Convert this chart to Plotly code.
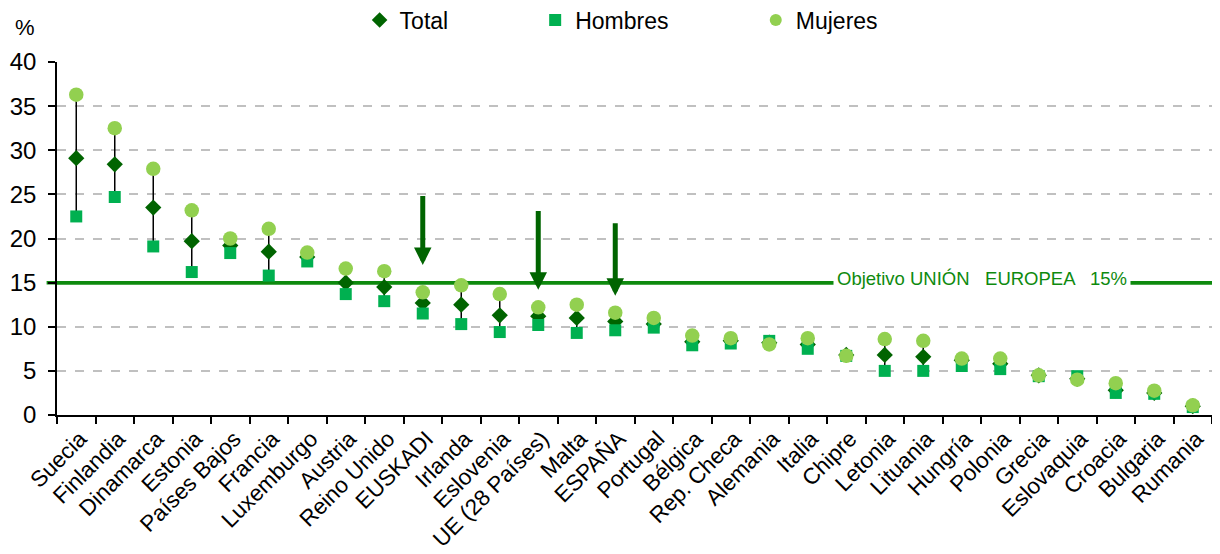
import plotly.graph_objects as go

categories = ["Suecia", "Finlandia", "Dinamarca", "Estonia", "Países Bajos", "Francia",
              "Luxemburgo", "Austria", "Reino Unido", "EUSKADI", "Irlanda", "Eslovenia",
              "UE (28 Países)", "Malta", "ESPAÑA", "Portugal", "Bélgica", "Rep. Checa",
              "Alemania", "Italia", "Chipre", "Letonia", "Lituania", "Hungría", "Polonia",
              "Grecia", "Eslovaquia", "Croacia", "Bulgaria", "Rumania"]

total = [29.1, 28.4, 23.5, 19.7, 19.2, 18.5, 17.9, 15.0, 14.5, 12.7, 12.5, 11.3,
         11.2, 11.0, 10.6, 10.3, 8.3, 8.4, 8.2, 8.0, 6.8, 6.8, 6.6, 6.2, 5.8,
         4.5, 4.1, 2.8, 2.5, 1.0]
hombres = [22.5, 24.7, 19.1, 16.2, 18.35, 15.8, 17.4, 13.7, 12.9, 11.5, 10.3, 9.4,
           10.2, 9.3, 9.6, 9.9, 7.9, 8.1, 8.4, 7.5, 6.7, 5.0, 5.0, 5.55, 5.2,
           4.4, 4.4, 2.5, 2.4, 0.9]
mujeres = [36.3, 32.5, 27.9, 23.2, 20.0, 21.1, 18.4, 16.6, 16.3, 13.9, 14.7, 13.7,
           12.2, 12.5, 11.6, 11.0, 9.0, 8.7, 8.0, 8.7, 6.7, 8.6, 8.4, 6.4, 6.4,
           4.5, 4.0, 3.6, 2.75, 1.1]

target_value = 15
target_label = "Objetivo UNIÓN   EUROPEA   15%"

arrow_cats = ["EUSKADI", "UE (28 Países)", "ESPAÑA"]
arrow_top = [25.0, 23.3, 21.9]
arrow_tip = [17.0, 14.2, 13.5]

y_ticks = [0, 5, 10, 15, 20, 25, 30, 35, 40]

C_TOTAL = "#006400"
C_HOM = "#00B050"
C_MUJ = "#92D050"
C_TARGET = "#0E8A0E"
FONT = "Liberation Sans, Arial, sans-serif"

fig = go.Figure()

# high-low lines
lx, ly = [], []
for c, t, h, m in zip(categories, total, hombres, mujeres):
    lx += [c, c, None]
    ly += [min(t, h, m), max(t, h, m), None]
fig.add_trace(go.Scatter(x=lx, y=ly, mode="lines", line=dict(color="black", width=1.5),
                         showlegend=False, hoverinfo="skip"))

fig.add_trace(go.Scatter(x=categories, y=total, mode="markers", name="Total",
                         legend="legend",
                         marker=dict(symbol="diamond", size=12.5, color=C_TOTAL)))
fig.add_trace(go.Scatter(x=categories, y=hombres, mode="markers", name="Hombres",
                         legend="legend2",
                         marker=dict(symbol="square", size=12, color=C_HOM)))
fig.add_trace(go.Scatter(x=categories, y=mujeres, mode="markers", name="Mujeres",
                         legend="legend3",
                         marker=dict(symbol="circle", size=14.5, color=C_MUJ)))

# arrows
for c, top, tip in zip(arrow_cats, arrow_top, arrow_tip):
    fig.add_annotation(x=c, y=tip, xref="x", yref="y",
                       axref="pixel", ax=0, ayref="y", ay=top,
                       showarrow=True, arrowhead=2, arrowwidth=5, arrowsize=0.7,
                       arrowcolor=C_TOTAL, standoff=0, text="")

# target line: full extent (outside the plot area) + in-plot part above the grid
fig.add_shape(type="line", xref="paper", yref="y", x0=-0.009, x1=1.01,
              y0=target_value, y1=target_value,
              line=dict(color=C_TARGET, width=3.5), layer="below")
fig.add_shape(type="line", xref="x", yref="y", x0=-0.5, x1=len(categories) - 0.5,
              y0=target_value, y1=target_value,
              line=dict(color=C_TARGET, width=3.5), layer="between")

fig.add_annotation(xref="paper", yref="y", x=0.801, y=target_value, yshift=4,
                   xanchor="center", yanchor="middle",
                   text=target_label, showarrow=False, bgcolor="white",
                   font=dict(family=FONT, size=18.5, color=C_TARGET),
                   borderpad=3)

fig.add_annotation(xref="paper", yref="paper", x=-0.028, y=1.0, yshift=35,
                   text="%", showarrow=False, xanchor="center", yanchor="middle",
                   font=dict(family=FONT, size=22, color="black"))

legend_style = dict(orientation="h", xanchor="left", yanchor="middle", y=1.119,
                    font=dict(family=FONT, size=23), itemsizing="constant",
                    bgcolor="rgba(0,0,0,0)")

# the page adds an 8px body margin, so the figure margins compensate for it
fig.update_layout(
    width=1220, height=554,
    margin=dict(l=49, r=16, t=54, b=147, autoexpand=False),
    paper_bgcolor="white", plot_bgcolor="white",
    font=dict(family=FONT, color="black"),
    legend=dict(legend_style, x=0.262),
    legend2=dict(legend_style, x=0.414),
    legend3=dict(legend_style, x=0.605),
    showlegend=True,
)

fig.update_xaxes(type="category", tickangle=-45, tickfont=dict(size=22.5, family=FONT),
                 showline=True, linecolor="black", linewidth=1.5, automargin=False,
                 ticks="outside", tickson="boundaries", ticklen=7, tickcolor="black",
                 tickwidth=1.5, showgrid=False, range=[-0.5, len(categories) - 0.5],
                 ticklabelshift=4)
fig.update_yaxes(range=[0, 40], tickvals=y_ticks, tickfont=dict(size=24, family=FONT),
                 showline=True, linecolor="black", linewidth=1.5, automargin=False,
                 ticks="outside", ticklen=7, tickcolor="black", tickwidth=1.5,
                 showgrid=True, gridcolor="#C0C0C0", griddash="dash", gridwidth=1.5,
                 zeroline=False, ticklabelstandoff=7)

fig.write_html("out.html")
